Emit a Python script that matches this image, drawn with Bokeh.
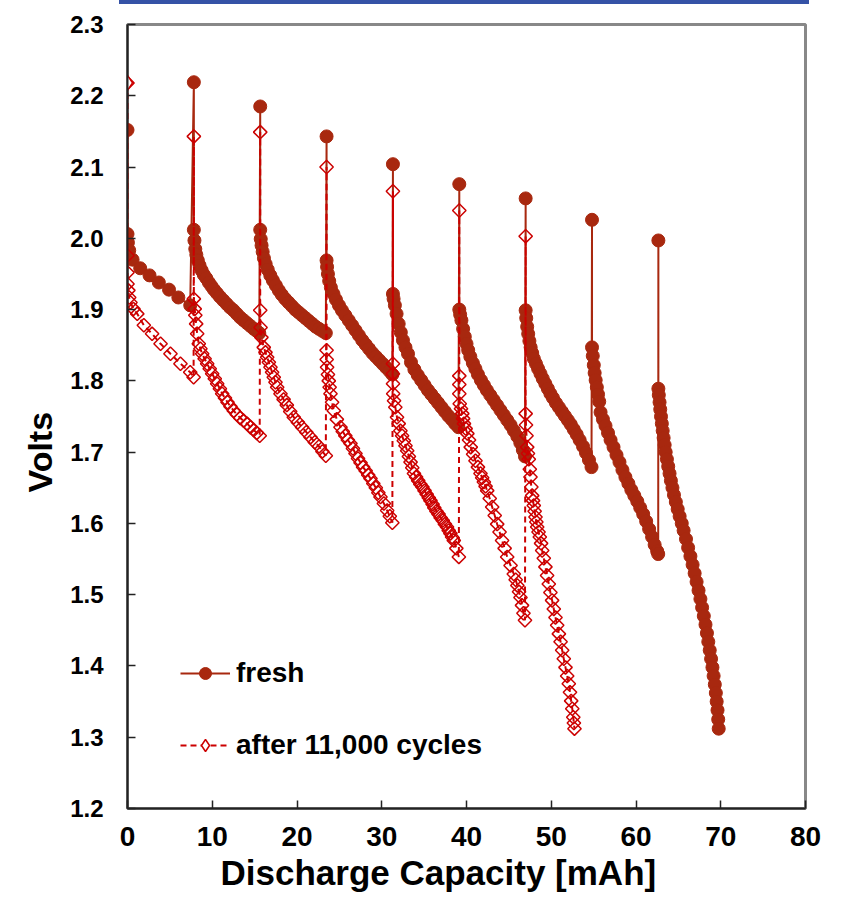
import numpy as np
from bokeh.plotting import figure
from bokeh.models import (FixedTicker, NumeralTickFormatter, Legend, LegendItem, Title, Div,
                          ColumnDataSource)
from bokeh.layouts import column
from bokeh.embed import file_html
from bokeh.resources import INLINE

# ---------------- data ----------------
x_ticks = [0, 10, 20, 30, 40, 50, 60, 70, 80]
y_ticks = [1.2, 1.3, 1.4, 1.5, 1.6, 1.7, 1.8, 1.9, 2.0, 2.1, 2.2, 2.3]

series_names = ["fresh", "after 11,000 cycles"]

fresh_x = [
    0, 0, 0.05, 0.2, 0.6, 1.5, 2.6, 3.7, 4.9, 6.0, 7.4,
    7.83, 7.83, 7.9, 8.0, 8.12, 8.3, 8.5, 8.75, 9.0, 9.3, 9.6, 9.9, 10.2, 10.55, 10.9, 11.3, 11.7, 12.1, 12.5, 12.9, 13.3, 13.7, 14.1, 14.5, 14.9, 15.25, 15.55,
    15.66, 15.66, 15.72, 15.82, 15.95, 16.1, 16.3, 16.55, 16.85, 17.15, 17.5, 17.85, 18.2, 18.6, 19.0, 19.4, 19.8, 20.2, 20.6, 21.0, 21.4, 21.8, 22.2, 22.6, 23.0, 23.4,
    23.49, 23.49, 23.55, 23.65, 23.8, 24.0, 24.3, 24.6, 24.95, 25.3, 25.7, 26.1, 26.5, 26.9, 27.3, 27.7, 28.1, 28.5, 28.9, 29.3, 29.7, 30.1, 30.5, 30.9, 31.25,
    31.32, 31.32, 31.4, 31.55, 31.75, 32.0, 32.25, 32.5, 32.8, 33.1, 33.45, 33.85, 34.25, 34.65, 35.05, 35.45, 35.85, 36.25, 36.65, 37.05, 37.45, 37.85, 38.25, 38.65, 39.05,
    39.15, 39.15, 39.25, 39.4, 39.6, 39.8, 40.0, 40.2, 40.45, 40.75, 41.05, 41.35, 41.7, 42.05, 42.4, 42.8, 43.2, 43.6, 44.0, 44.4, 44.8, 45.2, 45.6, 46.0, 46.35, 46.65, 46.9,
    46.98, 46.98, 47.05, 47.16, 47.28, 47.42, 47.57, 47.75, 47.95, 48.2, 48.45, 48.73, 49.0, 49.3, 49.6, 49.9, 50.2, 50.55, 50.9, 51.25, 51.6, 51.95, 52.3, 52.65, 53.0, 53.35, 53.75, 54.1, 54.45, 54.75,
    54.81, 54.81, 54.9, 55.02, 55.12, 55.24, 55.38, 55.52, 55.66, 55.82, 56.1, 56.4, 56.7, 57.0, 57.35, 57.7, 58.05, 58.4, 58.75, 59.1, 59.45, 59.8, 60.15, 60.5, 60.85, 61.2, 61.55, 61.9, 62.2, 62.5, 62.62,
    62.64, 62.64, 62.69, 62.78, 62.86, 62.95, 63.05, 63.15, 63.26, 63.38, 63.5, 63.65, 63.8, 63.96, 64.12, 64.3, 64.48, 64.7, 64.92, 65.15, 65.4, 65.62, 65.9, 66.15, 66.42, 66.68, 66.92, 67.15, 67.38, 67.6, 67.8, 68.0, 68.2, 68.37, 68.53, 68.7, 68.86, 69.02, 69.16, 69.3, 69.42, 69.52, 69.62, 69.7, 69.76,
]
fresh_v = [
    2.152, 2.006, 1.994, 1.983, 1.970, 1.958, 1.948, 1.938, 1.928, 1.917, 1.906,
    2.219, 2.012, 1.997, 1.985, 1.977, 1.969, 1.962, 1.955, 1.949, 1.944, 1.938, 1.933, 1.928, 1.923, 1.918, 1.913, 1.908, 1.903, 1.899, 1.894, 1.889, 1.885, 1.881, 1.877, 1.873, 1.870, 1.867,
    2.185, 2.012, 1.999, 1.990, 1.981, 1.972, 1.964, 1.956, 1.948, 1.941, 1.934, 1.927, 1.921, 1.915, 1.910, 1.905, 1.900, 1.896, 1.892, 1.888, 1.884, 1.880, 1.876, 1.873, 1.870, 1.867,
    2.143, 1.969, 1.960, 1.950, 1.940, 1.931, 1.922, 1.914, 1.906, 1.899, 1.892, 1.885, 1.878, 1.871, 1.864, 1.857, 1.851, 1.845, 1.839, 1.834, 1.829, 1.824, 1.819, 1.814, 1.809,
    2.104, 1.922, 1.915, 1.906, 1.894, 1.880, 1.868, 1.857, 1.847, 1.838, 1.826, 1.816, 1.808, 1.801, 1.794, 1.787, 1.781, 1.775, 1.769, 1.763, 1.757, 1.751, 1.746, 1.740, 1.735,
    2.076, 1.900, 1.893, 1.885, 1.873, 1.862, 1.852, 1.843, 1.834, 1.825, 1.817, 1.809, 1.801, 1.794, 1.787, 1.780, 1.773, 1.766, 1.759, 1.752, 1.745, 1.738, 1.730, 1.722, 1.713, 1.703, 1.694,
    2.056, 1.899, 1.888, 1.876, 1.866, 1.856, 1.847, 1.839, 1.831, 1.824, 1.817, 1.810, 1.803, 1.796, 1.789, 1.782, 1.776, 1.769, 1.763, 1.757, 1.751, 1.745, 1.739, 1.732, 1.725, 1.717, 1.708, 1.699, 1.689, 1.679,
    2.026, 1.847, 1.835, 1.822, 1.811, 1.801, 1.791, 1.781, 1.771, 1.756, 1.746, 1.737, 1.727, 1.717, 1.707, 1.696, 1.686, 1.675, 1.665, 1.656, 1.647, 1.639, 1.631, 1.622, 1.613, 1.603, 1.592, 1.581, 1.570, 1.561, 1.557,
    1.997, 1.789, 1.780, 1.770, 1.760, 1.750, 1.740, 1.730, 1.720, 1.710, 1.700, 1.690, 1.680, 1.670, 1.660, 1.650, 1.640, 1.630, 1.620, 1.610, 1.600, 1.590, 1.578, 1.566, 1.554, 1.542, 1.530, 1.518, 1.506, 1.494, 1.482, 1.470, 1.458, 1.446, 1.434, 1.422, 1.410, 1.398, 1.386, 1.374, 1.362, 1.350, 1.338, 1.325, 1.312,
]

aged_x = [
    0, 0, 0, 0, 0.1, 0.2, 0.35, 0.7, 1.15, 1.93, 2.9, 3.9, 5.07, 6.25, 7.4, 7.8,
    7.83, 7.83, 7.93, 8.0, 8.1, 8.22, 8.41, 8.6, 8.81, 9.1, 9.4, 9.7, 9.99, 10.3, 10.58, 10.9, 11.17, 11.5, 11.8, 12.15, 12.54, 12.9, 13.3, 13.7, 14.12, 14.5, 14.9, 15.25, 15.6,
    15.66, 15.66, 15.7, 15.8, 16.08, 16.28, 16.48, 16.68, 16.87, 17.06, 17.26, 17.46, 17.66, 18.05, 18.42, 18.8, 19.2, 19.62, 20.1, 20.6, 21.1, 21.6, 22.1, 22.6, 23.0, 23.4,
    23.49, 23.49, 23.5, 23.55, 23.65, 23.75, 23.85, 23.95, 24.14, 24.34, 24.7, 25.13, 25.4, 25.7, 26.0, 26.31, 26.6, 26.9, 27.2, 27.5, 27.8, 28.1, 28.4, 28.67, 29.0, 29.3, 29.6, 29.85, 30.25, 30.64, 30.95, 31.25,
    31.32, 31.32, 31.32, 31.33, 31.35, 31.45, 31.6, 31.8, 32.0, 32.2, 32.4, 32.6, 32.8, 33.0, 33.2, 33.4, 33.6, 33.8, 34.05, 34.3, 34.55, 34.8, 35.05, 35.3, 35.55, 35.75, 36.0, 36.2, 36.45, 36.7, 36.95, 37.2, 37.45, 37.7, 37.9, 38.1, 38.3, 38.5, 38.8, 39.1,
    39.15, 39.15, 39.15, 39.15, 39.2, 39.35, 39.5, 39.6, 39.7, 39.9, 40.1, 40.3, 40.5, 40.78, 41.06, 41.35, 41.65, 41.85, 42.05, 42.25, 42.44, 42.74, 43.03, 43.33, 43.62, 43.9, 44.2, 44.5, 44.8, 45.2, 45.58, 45.8, 46.0, 46.2, 46.37, 46.55, 46.72, 46.9,
    46.98, 46.98, 47.02, 47.08, 47.16, 47.25, 47.35, 47.47, 47.55, 47.65, 47.75, 47.85, 47.94, 48.04, 48.14, 48.24, 48.34, 48.5, 48.65, 48.8, 48.93, 49.12, 49.31, 49.51, 49.71, 49.9, 50.1, 50.3, 50.5, 50.7, 50.9, 51.1, 51.29, 51.48, 51.68, 51.88, 52.07, 52.21, 52.35, 52.48, 52.6, 52.67, 52.74,
]
aged_v = [
    2.218, 1.976, 1.952, 1.936, 1.927, 1.917, 1.910, 1.901, 1.894, 1.878, 1.866, 1.852, 1.838, 1.824, 1.812, 1.805,
    2.143, 1.915, 1.901, 1.892, 1.880, 1.866, 1.852, 1.845, 1.838, 1.831, 1.824, 1.817, 1.810, 1.803, 1.796, 1.789, 1.782, 1.776, 1.770, 1.764, 1.758, 1.753, 1.748, 1.744, 1.740, 1.735, 1.731, 1.727, 1.723,
    2.149, 1.899, 1.875, 1.861, 1.847, 1.840, 1.833, 1.826, 1.819, 1.812, 1.805, 1.798, 1.791, 1.782, 1.774, 1.766, 1.757, 1.749, 1.742, 1.735, 1.728, 1.721, 1.714, 1.708, 1.701, 1.695,
    2.100, 1.843, 1.830, 1.819, 1.809, 1.800, 1.791, 1.782, 1.770, 1.758, 1.746, 1.735, 1.729, 1.723, 1.717, 1.712, 1.705, 1.698, 1.691, 1.685, 1.679, 1.674, 1.668, 1.663, 1.656, 1.650, 1.643, 1.637, 1.628, 1.618, 1.610, 1.601,
    2.066, 1.824, 1.810, 1.796, 1.782, 1.772, 1.763, 1.749, 1.740, 1.730, 1.723, 1.716, 1.709, 1.702, 1.694, 1.686, 1.678, 1.670, 1.665, 1.660, 1.655, 1.651, 1.646, 1.641, 1.636, 1.632, 1.627, 1.622, 1.617, 1.613, 1.608, 1.604, 1.599, 1.595, 1.590, 1.586, 1.581, 1.576, 1.565, 1.553,
    2.039, 1.807, 1.795, 1.782, 1.768, 1.761, 1.754, 1.747, 1.740, 1.733, 1.726, 1.717, 1.707, 1.697, 1.688, 1.679, 1.670, 1.664, 1.658, 1.652, 1.646, 1.635, 1.623, 1.611, 1.599, 1.588, 1.576, 1.565, 1.553, 1.541, 1.529, 1.521, 1.513, 1.504, 1.496, 1.485, 1.474, 1.464,
    2.003, 1.754, 1.738, 1.723, 1.707, 1.698, 1.690, 1.676, 1.665, 1.651, 1.639, 1.632, 1.625, 1.617, 1.609, 1.602, 1.595, 1.588, 1.581, 1.572, 1.562, 1.551, 1.539, 1.527, 1.515, 1.503, 1.492, 1.480, 1.468, 1.457, 1.445, 1.434, 1.422, 1.410, 1.398, 1.386, 1.375, 1.363, 1.351, 1.340, 1.328, 1.320, 1.312,
]

# ---------------- styling ----------------
FRESH = "#A8280F"
AGED = "#CC0000"
FONT = "Liberation Sans"

p = figure(width=844, height=898, x_range=(0, 80), y_range=(1.2, 2.3),
           output_backend="svg", toolbar_location=None,
           min_border_left=127, min_border_right=39, min_border_top=20, min_border_bottom=94)
p.grid.visible = False
p.background_fill_color = "white"
p.border_fill_color = "white"
p.outline_line_color = "#888888"
p.outline_line_width = 3

fl = p.line(fresh_x, fresh_v, line_color=FRESH, line_width=2)
fs = p.scatter(fresh_x, fresh_v, marker="circle", size=13, fill_color=FRESH, line_color=FRESH)
al = p.line(aged_x, aged_v, line_color=AGED, line_width=2, line_dash="6 4")
asc = p.scatter(aged_x, aged_v, marker="square", angle=np.pi / 4, size=9.5,
                fill_color=None, line_color=AGED, line_width=1.5)

# diamond used as the legend swatch; it sits on the first "after" point (the peak at 0 mAh)
swatch_src = ColumnDataSource(data=dict(x=aged_x[:1], y=aged_v[:1]))
leg_diamond = p.scatter("x", "y", source=swatch_src, marker="diamond", size=15,
                        fill_color="white", line_color=AGED, line_width=1.5)

p.xaxis.ticker = FixedTicker(ticks=x_ticks, minor_ticks=[])
p.yaxis.ticker = FixedTicker(ticks=y_ticks, minor_ticks=[])
p.yaxis.formatter = NumeralTickFormatter(format="0.0")

for ax in (p.xaxis[0], p.yaxis[0]):
    ax.major_tick_in = 8
    ax.major_tick_out = 0
    ax.minor_tick_line_color = None
    ax.axis_line_color = "#222222"
    ax.axis_line_width = 2
    ax.major_tick_line_color = "#222222"
    ax.major_tick_line_width = 1.5
    ax.major_label_text_font = FONT
    ax.major_label_text_font_style = "bold"
    ax.major_label_text_color = "black"

p.xaxis.major_label_text_font_size = "28px"
p.xaxis.major_label_standoff = 18
p.yaxis.major_label_text_font_size = "24px"
p.yaxis.major_label_standoff = 24

xt = Title(text="Discharge Capacity [mAh]", align="left", offset=93, standoff=4,
           text_font=FONT, text_font_style="bold", text_font_size="35px", text_color="black")
p.add_layout(xt, "below")

yt = Title(text="Volts", align="left", offset=316, standoff=17,
           text_font=FONT, text_font_style="bold", text_font_size="34px", text_color="black")
p.add_layout(yt, "left")

legend = Legend(items=[LegendItem(label=series_names[0], renderers=[fl, fs]),
                       LegendItem(label=series_names[1], renderers=[al, leg_diamond])],
                location=(53, 47), orientation="vertical",
                background_fill_alpha=0, border_line_alpha=0,
                padding=0, margin=0, spacing=40,
                glyph_width=50, glyph_height=30, label_height=30, label_standoff=6,
                label_text_font=FONT, label_text_font_style="bold",
                label_text_font_size="28px", label_text_color="black")
p.add_layout(legend)

bar = Div(text="", width=690, height=4, margin=(0, 0, 0, 119),
          styles={"background-color": "#3552A6"})

layout = column(bar, p, spacing=0)
open("out.html", "w").write(file_html(layout, INLINE))
